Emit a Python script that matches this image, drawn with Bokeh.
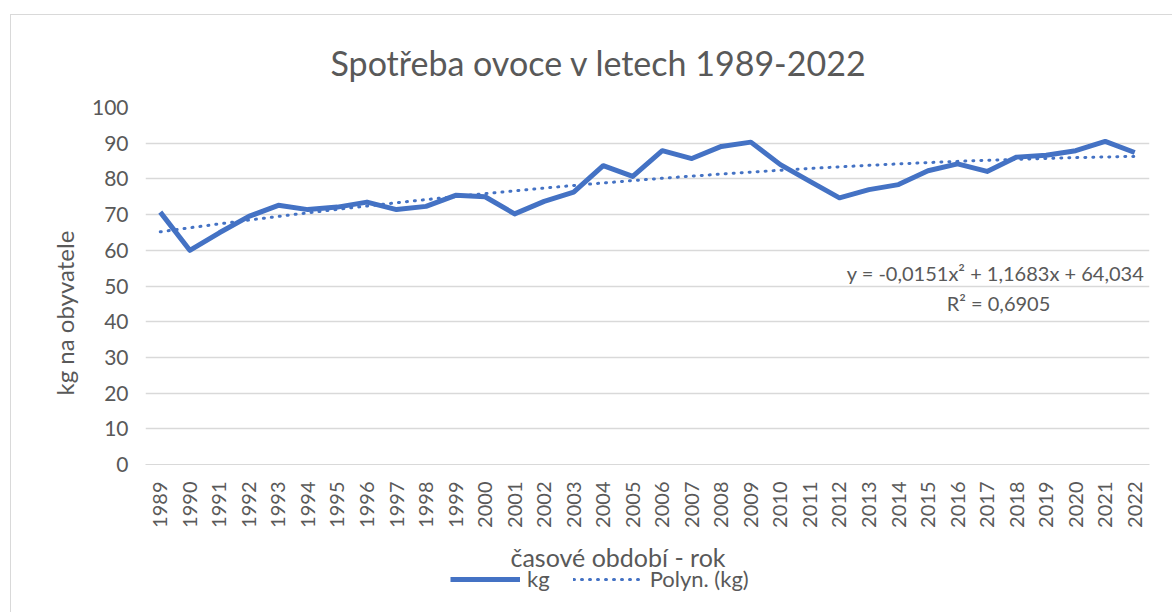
import numpy as np
from bokeh.plotting import figure
from bokeh.layouts import column
from bokeh.models import (ColumnDataSource, FixedTicker, Label, Legend, LegendItem,
                          Title, Range1d)
from bokeh.embed import file_html
from bokeh.resources import INLINE

# ---- data ----
years = list(range(1989, 2023))
kg = [70.7, 60.0, 64.9, 69.5, 72.6, 71.4, 72.1, 73.5, 71.4, 72.3,
      75.4, 75.0, 70.2, 73.7, 76.3, 83.7, 80.7, 87.9, 85.7, 89.1,
      90.3, 84.0, 79.3, 74.7, 77.0, 78.4, 82.3, 84.2, 82.1, 86.1,
      86.6, 87.9, 90.5, 87.4]
# polynomial trendline coefficients as shown in the chart
coef_a = -0.0151
coef_b = 1.1683
coef_c = 64.034
title_text = "Spotřeba ovoce v letech 1989-2022"
y_title = "kg na obyvatele"
x_title = "časové období - rok"
eq_text = "y = -0,0151x² + 1,1683x + 64,034"
r2_text = "R² = 0,6905"
legend_labels = ["kg", "Polyn. (kg)"]
y_ticks = list(range(0, 101, 10))

idx = np.arange(1, len(years) + 1)
trend = coef_a * idx**2 + coef_b * idx + coef_c

FONT = "Lato"
TXT = "#595959"
BLUE = "#4472C4"

OX, OY = 11, 15          # figure origin on page (after margin + border)
P_BOTTOM = 532           # page y where main figure ends
FRAME_L, FRAME_R = OX + 134, 1172 - 23
W = 1172 - OX
H1 = P_BOTTOM - OY
H2 = 612 - P_BOTTOM

p = figure(width=W, height=H1, output_backend="svg", toolbar_location=None,
           x_range=Range1d(1988.5, 2022.5), y_range=Range1d(0, 100),
           min_border_left=134, min_border_right=23, min_border_top=91,
           min_border_bottom=P_BOTTOM - 464)
p.outline_line_color = None
p.background_fill_color = "white"
p.border_fill_color = "white"

src = ColumnDataSource(dict(x=years, y=kg, t=trend))
r1 = p.line("x", "y", source=src, line_color=BLUE, line_width=5, line_join="round")
r2 = p.line("x", "t", source=src, line_color=BLUE, line_width=3,
            line_dash="1 7", line_cap="round")

# axes
p.xaxis.ticker = FixedTicker(ticks=years)
p.xaxis.major_label_orientation = np.pi / 2
p.xaxis.axis_line_color = "#d9d9d9"
p.xaxis.major_tick_line_color = None
p.xaxis.minor_tick_line_color = None
p.xaxis.major_label_standoff = 11
p.xaxis.major_label_text_font = FONT
p.xaxis.major_label_text_font_size = "20px"
p.xaxis.major_label_text_color = TXT

p.yaxis.ticker = FixedTicker(ticks=y_ticks)
p.yaxis.axis_line_color = None
p.yaxis.major_tick_line_color = None
p.yaxis.minor_tick_line_color = None
p.yaxis.major_label_standoff = 11
p.yaxis.major_label_text_font = FONT
p.yaxis.major_label_text_font_size = "21px"
p.yaxis.major_label_text_color = TXT

p.xgrid.grid_line_color = None
p.ygrid.grid_line_color = "#d9d9d9"
p.ygrid.grid_line_width = 1.5

# title
p.title.text = title_text
p.title.align = "left"
p.title.offset = 185
p.title.standoff = 49
p.title.text_font = FONT
p.title.text_font_size = "34px"
p.title.text_font_style = "normal"
p.title.text_color = TXT

# y axis title
p.add_layout(Title(text=y_title, align="left", offset=69, standoff=19,
                   text_font=FONT, text_font_size="24px", text_font_style="normal",
                   text_color=TXT), "left")

# pixel -> data helpers for in-plot text placement (page coords)
def xd(px):
    return 1988.5 + (px - FRAME_L) / (1004 / 34)

def yd(py):
    return (464 - py) / 3.58

for t, px, py in ((eq_text, 995, 272), (r2_text, 998, 302)):
    p.add_layout(Label(x=xd(px), y=yd(py), text=t, text_font=FONT,
                       text_font_size="20px", text_color=TXT, text_align="center",
                       text_baseline="middle"))

# ---- lower strip: x axis title + legend (frame aligned with main plot frame) ----
p2 = figure(width=W, height=H2, output_backend="svg", toolbar_location=None,
            x_range=Range1d(FRAME_L, FRAME_R), y_range=Range1d(0, H2),
            x_axis_type=None, y_axis_type=None, min_border=0)
p2.outline_line_color = None
p2.xgrid.grid_line_color = None
p2.ygrid.grid_line_color = None
p2.border_fill_color = "white"

p2.add_layout(Label(x=510, y=612 - 556, text=x_title, text_font=FONT,
                    text_font_size="25px", text_color=TXT, text_align="left",
                    text_baseline="middle"))

# legend proxies (their data lies outside this strip's range, so only the legend shows)
d1 = p2.line("x", "y", source=src, line_color=BLUE, line_width=5)
d2 = p2.line("x", "t", source=src, line_color=BLUE, line_width=3,
             line_dash="1 7", line_cap="round")
legend = Legend(items=[LegendItem(label=legend_labels[0], renderers=[d1]),
                       LegendItem(label=legend_labels[1], renderers=[d2])],
                orientation="horizontal", location=(450 - FRAME_L, 612 - 592),
                padding=0, margin=0, spacing=23, glyph_width=70, glyph_height=24,
                label_height=24, label_standoff=7, border_line_color=None,
                background_fill_alpha=0, label_text_font=FONT,
                label_text_font_size="22px", label_text_color=TXT)
p2.add_layout(legend, "center")

layout = column(p, p2, spacing=0,
                styles={"margin-left": "10px", "margin-top": "14px",
                        "border-left": "1px solid #d9d9d9",
                        "border-top": "1px solid #d9d9d9"})

open("out.html", "w").write(file_html(layout, INLINE))
